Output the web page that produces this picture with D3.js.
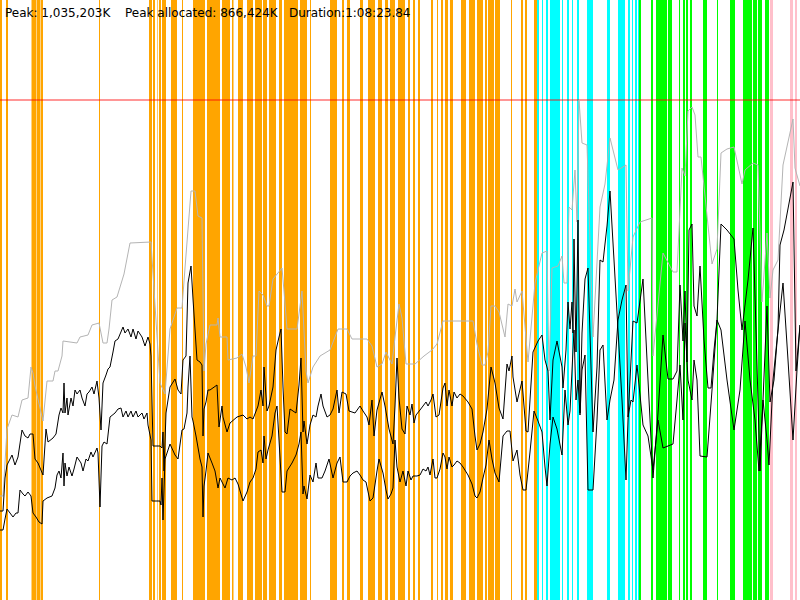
<!DOCTYPE html>
<html><head><meta charset="utf-8">
<script src="https://cdn.jsdelivr.net/npm/d3@7"></script>
<style>body{margin:0;background:#fff;overflow:hidden}</style>
</head><body>
<svg id="chart" width="800" height="600"></svg>
<script>
// ---- header figures ----
const peakK = 1035203;
const peakAllocK = 866424;
const durationLabel = "1:08:23.84";
const durationSec = 4103.84;
const sampleCount = 800;            // samples over the whole run
const headerLabels = ["Peak: 1,035,203K", "Peak allocated: 866,424K", "Duration:" + durationLabel];

// ---- GC / phase events, [startSample, endSample] ----
const orangeEvents = [[0,2],[6,8],[31.5,36],[36.5,40.5],[41,43],[99,100],[149,152],[153,155],[157,157.6],[159,161],[162,166],[171,177],[182,183],[193,200],[200,205],[207,220],[222,230],[232,233.5],[238,243],[247,253],[255,262],[263,267],[269,276],[279,282],[284,298],[300,307],[310,311],[330,337],[342,344],[347,350],[360,363],[368,375],[378,382],[385,388],[390,395],[398,405],[408,410],[413,415],[418,420],[431,433],[437,438],[441,443],[445,448],[450,453],[461,466],[469,475],[477,483],[485,487],[488,494],[495,500],[511,512],[521,523],[525,527],[534,537]];
const cyanEvents = [[537,539],[542,543],[546,548],[550,560],[562,563],[567,569],[572,573],[577,579],[587,593],[607,610],[618,625],[628,630],[632,633],[635,637],[638,639]];
const greenEvents = [[639,641],[651,653],[656,667],[668,672],[679,680],[683,685],[686,688],[690,692],[703,707],[717,718],[730,735],[743,752],[753,757],[758,762],[765,769]];
const pinkEvents = [[770,773],[790,793],[795,797]];

// ---- memory series: [sample, percent of peak] ----
const peakSeries = [[0,20.8],[3,20.8],[7,34.2],[12,37],[18,36.6],[22,40],[28,40.4],[31,46.6],[33,45.4],[35,42.8],[43,35.8],[47,43.8],[53,43.8],[55,45.8],[58,45.8],[62,48.8],[63,51.8],[77,51.4],[80,52.6],[88,53],[92,55],[99,55.4],[103,51.4],[107,51.4],[109,54.2],[112,60],[117,60.6],[124,65.2],[130,71.4],[151,71.6],[160,43.4],[165,41.2],[170,54.2],[177,58.4],[182,58.4],[185,66.4],[191,81.8],[195,81.8],[198,76.8],[202,76.4],[204,45.8],[206,51.2],[210,55],[217,55],[218,56.4],[220,52.6],[227,52.6],[228,48],[237,48.4],[242,49.2],[246,46.6],[249,43.4],[253,48.8],[256,48.8],[259,61.8],[263,61],[267,58.8],[269,58.8],[273,64.2],[282,66.4],[284,61.8],[287,54.2],[297,54.2],[302,61.8],[306,45.8],[308,43.4],[313,46.6],[320,48.8],[330,50],[338,54.2],[347,54.2],[352,52.2],[367,52.2],[372,50.8],[377,46.6],[382,47.2],[386,49.6],[392,47.2],[395,52.6],[399,59.2],[402,56.4],[406,47.2],[415,47.2],[424,48.8],[432,50],[437,51.2],[443,55.8],[473,55.8],[477,51.2],[482,47],[485,47],[488,49.6],[491,58.8],[495,58.8],[499,57.6],[505,52.6],[508,59.2],[512,58.8],[515,62.2],[517,59.6],[522,61.8],[528,47.6],[535,63.4],[542,69.4],[547,69.8],[549,45.8],[552,66.4],[558,66.8],[562,68.8],[564,63.4],[567,63.4],[569,78.6],[572,78],[575,86],[577,75.6],[579,100],[582,91.4],[587,91],[593,52.6],[600,78.6],[605,83.2],[610,92.4],[618,86],[626,87],[628,61.8],[633,72.6],[640,75.6],[652,76.4],[653,48.8],[663,69.4],[673,65.6],[677,65.6],[682,86.4],[685,84.8],[688,97.8],[692,98.6],[695,97],[698,88.6],[701,88.6],[712,67.2],[717,70.2],[721,89.4],[727,90.2],[734,90.6],[742,83.2],[745,86],[753,87.4],[758,87],[762,59.6],[767,73.4],[770,60.4],[773,66],[778,68],[783,87],[793,96.2],[795,86.4],[800,82.8]];

const allocSeries = [[0,17.8],[3,17.8],[5,24.4],[7,27],[12,29],[15,27],[18,28.6],[22,34],[25,32.8],[28,32.4],[30,33.2],[33,33.2],[35,28.2],[38,27.4],[43,25],[46,34.2],[48,31.6],[53,32.4],[56,33.2],[59,37],[61,38.4],[63,37.4],[64,43.4],[65,37.4],[67,40.4],[68,37],[71,40.4],[73,38.8],[75,42],[77,41.2],[80,42],[82,40.4],[85,38.8],[87,41.2],[89,41.6],[92,42.6],[94,41.2],[97,43.8],[99,40.4],[101,34],[103,43.4],[106,45],[108,46.2],[110,46.6],[113,49.6],[115,51.8],[118,52.2],[123,54.6],[125,53.4],[128,54.2],[131,52.6],[133,54.2],[136,52.2],[138,53.8],[142,52.6],[145,50.8],[148,52.6],[150,51.2],[151,48.8],[153,30.8],[160,30.8],[162,30.4],[163,33.6],[164,25.8],[166,37.4],[170,42.6],[175,44.2],[178,42],[181,41.2],[183,48],[186,48.8],[188,63.4],[191,66.8],[193,60.2],[197,48],[200,47.6],[202,47],[203,32.8],[204,38.2],[206,39.6],[208,42],[210,42],[217,43],[219,34.6],[222,38.8],[223,36.6],[227,33.6],[230,35.4],[237,36.6],[243,37],[247,36.2],[250,36.6],[253,36.2],[258,38.8],[261,42],[263,38.8],[264,46.6],[267,37.8],[269,38.8],[273,42.6],[276,50],[279,52.6],[281,54.2],[283,42.6],[285,33.6],[287,33.2],[290,38.2],[296,37.4],[299,43],[301,48.4],[303,33.6],[304,35.8],[307,31.2],[310,35],[313,37],[316,36.6],[318,38.8],[321,41.2],[323,38.8],[327,36.6],[330,37],[333,38.2],[337,42],[339,37.4],[342,41.6],[346,41.2],[349,37.8],[355,37.4],[360,38.8],[363,37.8],[367,36.6],[369,35],[372,40],[374,32.8],[377,38],[382,41.6],[385,38.8],[389,34.2],[393,31.2],[395,38.8],[397,48.4],[399,40.4],[402,34.2],[405,33.2],[407,38.8],[410,37],[412,39.2],[414,35.4],[416,37],[420,38],[423,38.8],[426,39.6],[428,38.8],[431,40],[433,41.2],[436,36.6],[439,37],[443,42.4],[445,43.4],[447,38.8],[449,42],[452,38.8],[454,41.6],[457,40.4],[460,41.2],[463,40.8],[468,39.6],[472,38.2],[475,32.8],[477,30],[480,31.2],[483,33.6],[487,38.2],[491,46.6],[495,43.4],[499,38.4],[503,36.2],[507,47.2],[509,45.8],[512,48.8],[513,44.6],[517,39.6],[522,43.8],[526,33.8],[528,33.6],[533,49.6],[538,51.8],[542,53],[545,48],[548,45.8],[550,36],[553,48],[557,51.8],[562,46.6],[563,42.4],[566,50],[568,59.6],[570,54.2],[572,59.6],[573,53.4],[574,72.2],[576,49.6],[578,76],[580,37.4],[582,53.4],[585,64.2],[588,66.4],[593,33.6],[597,46.6],[600,68],[603,67.6],[607,74.8],[610,81.8],[614,68],[618,54],[622,40],[626,24],[628,36],[633,55.8],[637,55.4],[643,64.2],[648,44],[653,24.4],[658,37.4],[663,53],[668,44.2],[673,44.2],[677,45.8],[680,63],[683,51.8],[685,61.8],[687,47.6],[689,74],[692,75.2],[694,58.8],[697,56.8],[700,66.8],[704,52],[708,42.4],[711,42.4],[714,50],[717,56],[721,75.2],[727,74],[734,72.2],[738,62],[742,54],[748,64],[753,74.4],[756,54],[760,25.8],[763,40],[767,58.8],[770,39.6],[774,44],[778,54.2],[780,71],[784,74],[793,83.6],[796,45.8],[800,55]];

const liveSeries = [[0,14],[3,14],[5,16.2],[7,18.2],[10,17.4],[13,16.6],[16,17.4],[18,17.4],[20,22],[23,21.2],[25,20.8],[28,21.6],[31,20.8],[33,17.4],[36,16.6],[39,15.6],[42,15.2],[43,19.8],[47,20.4],[52,20.8],[55,22.4],[57,25],[59,25.8],[61,24.4],[63,29.4],[64,22.8],[65,27.4],[67,24.8],[69,26.6],[72,24.8],[74,26.2],[77,28.6],[81,27.4],[83,25.8],[86,28.2],[88,27.8],[91,29.6],[93,28.6],[97,30.4],[98,29.4],[100,18.6],[102,30.8],[104,31.6],[107,31.2],[110,36.6],[115,37.4],[118,38.2],[121,38.4],[123,36.6],[126,37.8],[128,36.6],[131,37.8],[133,36.6],[136,37.8],[138,36.6],[142,37.4],[144,36.2],[147,37.4],[148,35],[151,32],[152,19.8],[160,19.8],[161,19],[162,24.4],[163,16],[165,28.2],[167,29.4],[170,31.2],[175,29],[178,28.2],[182,34],[184,34.2],[187,37.4],[188,42.6],[190,48.8],[192,36.6],[193,35.8],[196,32.8],[200,28.2],[202,26.6],[203,16.6],[204,22.8],[206,25.8],[208,29.4],[212,27.4],[215,25.8],[218,22.4],[220,24.4],[223,23.2],[225,22.4],[228,24.4],[232,24],[235,24.4],[238,23.2],[243,19.8],[247,21.6],[250,23.6],[253,24.4],[256,26.2],[258,29.6],[261,30],[263,27.4],[264,32.8],[266,28.2],[268,30],[272,32.8],[275,37.4],[277,38.8],[279,32],[282,21.6],[285,21.6],[287,25.8],[292,27.4],[296,29],[299,31.2],[301,33.6],[303,21.2],[304,22.8],[307,20.2],[310,25],[313,23.6],[316,27.4],[318,24.4],[322,24.4],[325,25.8],[329,28.2],[333,24.4],[337,27.4],[340,28.6],[343,23.6],[347,23.6],[350,24.8],[353,25.4],[357,25.8],[360,25],[363,24],[366,23.6],[370,19.8],[373,20.4],[377,25.8],[379,28.2],[383,25.4],[386,22],[388,20.2],[391,21.2],[393,22.4],[395,32],[397,26.6],[400,23.6],[403,25.8],[406,22.8],[408,25.8],[411,24],[413,24.8],[417,24.8],[420,25],[423,26.2],[426,25.8],[428,26.6],[430,25],[433,28.2],[435,24.4],[437,24.4],[440,26.2],[443,29.4],[445,28.6],[447,26.2],[449,28.6],[452,26.6],[454,27],[457,27.8],[460,27.4],[463,26.6],[468,25],[472,23.2],[475,20.8],[477,20.4],[480,21.6],[483,24.4],[486,27],[489,32],[492,28.2],[495,25.4],[499,23.6],[503,32.8],[507,33.8],[510,33.8],[513,27.8],[517,30],[520,25],[523,22],[526,22],[530,29.6],[534,37.8],[538,35.8],[542,33.6],[545,26.6],[547,22.8],[550,31.2],[553,36.6],[557,34.2],[562,29],[565,42],[568,35],[570,37.8],[574,54],[576,40],[578,44],[580,37],[582,46],[585,49],[588,22],[593,22],[597,36],[600,50],[603,51],[607,36],[610,40],[614,44],[618,56],[622,60],[626,63],[628,36.6],[631,40],[633,39.6],[637,47],[643,35],[648,32.8],[653,26],[658,36],[663,30.4],[668,30.8],[673,31.2],[677,40],[680,47],[683,36],[685,55.4],[688,44],[692,40],[694,48],[697,44],[700,28.8],[707,28.6],[712,42],[717,56],[721,54],[727,44],[734,34],[740,42],[745,55.8],[750,44],[755,36],[759,25.8],[763,40],[767,32],[769,27],[773,44],[778,54],[783,63.4],[788,48],[793,32],[797,46],[800,55]];

// ---- drawing ----
const W = 800, H = 600;
const svg = d3.select("#chart");
const x = d3.scaleLinear().domain([0, durationSec]).range([0, W]);
const toSec = s => s * durationSec / sampleCount;
const y = d3.scaleLinear().domain([0, 100]).range([H, 100]);

const bandGroups = [
  {data: orangeEvents, color: "#ffa500"},
  {data: cyanEvents, color: "#00ffff"},
  {data: greenEvents, color: "#00ff00"},
  {data: pinkEvents, color: "#ffc0cb"}
];
bandGroups.forEach(g => {
  svg.append("g").selectAll("rect").data(g.data).join("rect")
    .attr("x", d => x(toSec(d[0])))
    .attr("width", d => x(toSec(d[1])) - x(toSec(d[0])))
    .attr("y", 0).attr("height", H)
    .attr("fill", g.color);
});

// peak reference line
svg.append("line")
  .attr("x1", 0).attr("x2", W)
  .attr("y1", y(100)).attr("y2", y(100))
  .attr("stroke", "#ff0000").attr("stroke-opacity", 0.55).attr("stroke-width", 1.5);

const line = d3.line().x(d => x(toSec(d[0]))).y(d => y(d[1]));
svg.append("path").datum(peakSeries).attr("d", line)
  .attr("fill", "none").attr("stroke", "#b4b4b4").attr("stroke-width", 1);
svg.append("path").datum(allocSeries).attr("d", line)
  .attr("fill", "none").attr("stroke", "#000").attr("stroke-width", 1);
svg.append("path").datum(liveSeries).attr("d", line)
  .attr("fill", "none").attr("stroke", "#000").attr("stroke-width", 1);

// header text
const headerX = [5, 125, 289];
svg.append("g").selectAll("text").data(headerLabels).join("text")
  .attr("x", (d, i) => headerX[i]).attr("y", 17)
  .attr("font-family", "DejaVu Sans, Verdana, sans-serif")
  .attr("font-size", 12).attr("fill", "#000")
  .text(d => d);
</script>
</body></html>
